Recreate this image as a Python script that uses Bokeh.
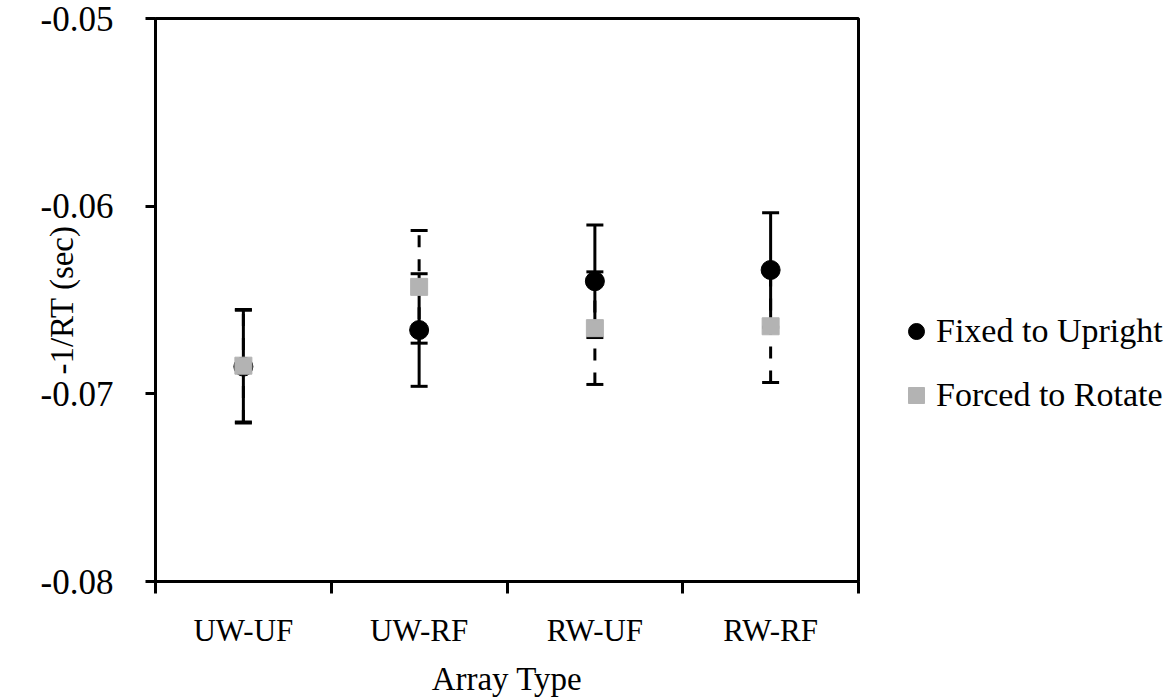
from bokeh.plotting import figure
from bokeh.models import (ColumnDataSource, Whisker, TeeHead, Legend, LegendItem,
                          FixedTicker, Range1d)
from bokeh.embed import file_html
from bokeh.resources import INLINE

categories = ["UW-UF", "UW-RF", "RW-UF", "RW-RF"]
fixed_mean = [-0.06855, -0.0666, -0.0640, -0.0634]
fixed_err = [0.0030, 0.0030, 0.0030, 0.00305]
forced_mean = [-0.0685, -0.0643, -0.0665, -0.0664]
forced_err = [0.0030, 0.0030, 0.0030, 0.0030]
y_ticks = [-0.08, -0.07, -0.06, -0.05]

FONT = "Liberation Serif"
GRAY = "#b3b3b3"

xs = [i + 0.5 for i in range(len(categories))]
fixed_src = ColumnDataSource(dict(
    x=xs, y=fixed_mean,
    lo=[m - e for m, e in zip(fixed_mean, fixed_err)],
    hi=[m + e for m, e in zip(fixed_mean, fixed_err)]))
forced_src = ColumnDataSource(dict(
    x=xs, y=forced_mean,
    lo=[m - e for m, e in zip(forced_mean, forced_err)],
    hi=[m + e for m, e in zip(forced_mean, forced_err)]))

p = figure(frame_width=703, frame_height=563, output_backend="svg", toolbar_location=None,
           x_range=Range1d(0, len(categories)), y_range=Range1d(-0.08, -0.05),
           min_border_left=155, min_border_right=0, min_border_top=18,
           min_border_bottom=0)
p.grid.visible = False
p.outline_line_color = "black"
p.outline_line_width = 3
p.background_fill_color = "white"
p.border_fill_color = "white"

# error bars
for src, dash in ((forced_src, "12 12"), (fixed_src, "solid")):
    w = Whisker(source=src, base="x", upper="hi", lower="lo", dimension="height",
                line_color="black", line_width=3, line_dash=dash, level="underlay",
                upper_head=TeeHead(size=17, line_width=3, line_color="black"),
                lower_head=TeeHead(size=17, line_width=3, line_color="black"))
    p.add_layout(w)

r_fixed = p.scatter("x", "y", source=fixed_src, marker="circle", size=19,
                    fill_color="black", line_color="black")
r_forced = p.scatter("x", "y", source=forced_src, marker="square", size=17,
                     fill_color=GRAY, line_color=GRAY)

# x axis: boundary ticks as minor ticks, labels at centres
xa = p.xaxis[0]
xa.ticker = FixedTicker(ticks=xs, minor_ticks=list(range(len(categories) + 1)))
xa.major_label_overrides = {x: c for x, c in zip(xs, categories)}
xa.major_tick_out = 0
xa.major_tick_in = 0
xa.minor_tick_out = 12
xa.minor_tick_in = 0
xa.minor_tick_line_width = 3
xa.minor_tick_line_color = "black"
xa.axis_line_width = 3
xa.axis_line_color = "black"
xa.major_label_text_font = FONT
xa.major_label_text_font_size = "31px"
xa.major_label_text_color = "black"
xa.major_label_standoff = 19
xa.axis_label = "Array Type"
xa.axis_label_text_font = FONT
xa.axis_label_text_font_size = "33px"
xa.axis_label_text_font_style = "normal"
xa.axis_label_text_color = "black"
xa.axis_label_standoff = 10

ya = p.yaxis[0]
ya.ticker = FixedTicker(ticks=y_ticks, minor_ticks=[])
ya.major_label_overrides = {t: f"{t:.2f}" for t in y_ticks}
ya.major_tick_out = 10
ya.major_tick_in = 0
ya.major_tick_line_width = 3
ya.axis_line_width = 3
ya.axis_line_color = "black"
ya.major_label_text_font = FONT
ya.major_label_text_font_size = "35px"
ya.major_label_text_color = "black"
ya.major_label_standoff = 32
ya.axis_label = "-1/RT (sec)"
ya.axis_label_text_font = FONT
ya.axis_label_text_font_size = "33px"
ya.axis_label_text_font_style = "normal"
ya.axis_label_text_color = "black"
ya.axis_label_standoff = -42

legend = Legend(items=[LegendItem(label="Fixed to Upright", renderers=[r_fixed]),
                       LegendItem(label="Forced to Rotate", renderers=[r_forced])],
                location=(38, 166), orientation="vertical",
                glyph_width=40, glyph_height=40, label_height=40, spacing=24,
                label_standoff=-4, padding=0, margin=0,
                border_line_color=None, background_fill_alpha=0,
                label_text_font=FONT, label_text_font_size="34px",
                label_text_color="black")
p.add_layout(legend, "right")

open("out.html", "w").write(file_html(p, INLINE))
